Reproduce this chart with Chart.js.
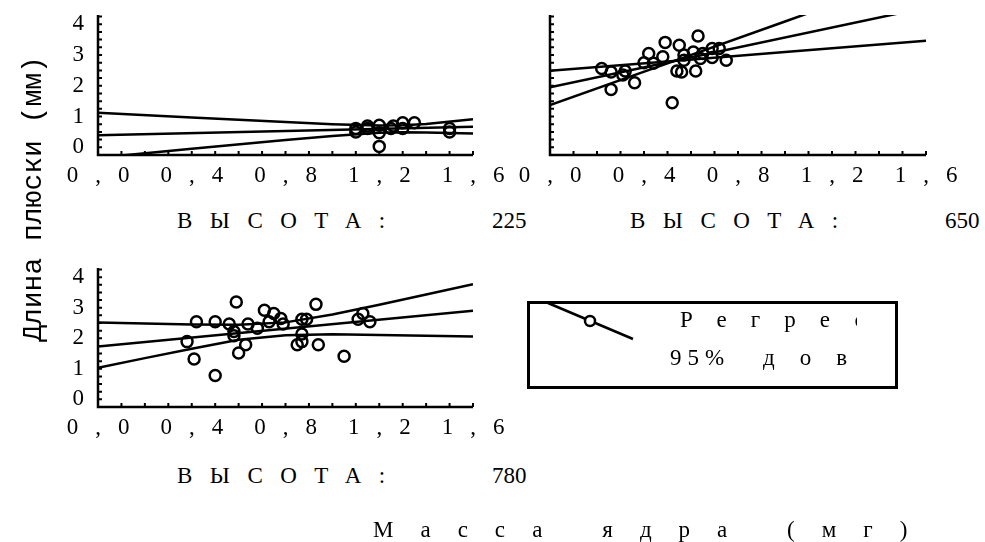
<!DOCTYPE html>
<html>
<head>
<meta charset="utf-8">
<script src="https://cdn.jsdelivr.net/npm/chart.js@4.4.1/dist/chart.umd.min.js"></script>
<style>
  html, body { margin: 0; padding: 0; background: #fff; }
  #page { position: relative; width: 985px; height: 542px; overflow: hidden;
          font-family: "Liberation Serif", "Times New Roman", serif; color: #000; }
  #page canvas { position: absolute; }
  .txt { position: absolute; white-space: nowrap; font-size: 23px; line-height: 23px; }
  .sp { letter-spacing: 17.5px; }
  #legendBox { position: absolute; left: 527px; top: 301px; width: 371px; height: 88px; border: 3px solid #000; box-sizing: border-box; }
  #legendClip { position: absolute; left: 528px; top: 302px; width: 329px; height: 86px; overflow: hidden; }
  #ytitle { position: absolute; left: -116px; top: 185px; width: 300px; height: 28px; line-height: 28px; text-align: center;
            font-family: "Liberation Mono", "Courier New", monospace; font-size: 28px;
            transform: rotate(-90deg); white-space: nowrap; }
</style>
</head>
<body>
<div id="page">
  <canvas id="c225" width="530" height="190" style="left:0;top:0"></canvas>
  <canvas id="c650" width="485" height="190" style="left:500px;top:0"></canvas>
  <canvas id="c780" width="530" height="195" style="left:0;top:255px"></canvas>

  <div class="txt sp" style="left:177px;top:209px">ВЫСОТА:</div><div class="txt" style="left:492px;top:209px">225</div>
  <div class="txt sp" style="left:630px;top:209px">ВЫСОТА:</div><div class="txt" style="left:945px;top:209px">650</div>
  <div class="txt sp" style="left:177px;top:464px">ВЫСОТА:</div><div class="txt" style="left:492px;top:464px">780</div>

  <div id="legendBox"></div>
  <div id="legendClip">
    <div class="txt" style="left:152px;top:6px;letter-spacing:24px">Регрессия</div>
    <div class="txt" style="left:142px;top:44px;letter-spacing:6px">95%</div>
    <div class="txt" style="left:235px;top:44px;letter-spacing:25px">доверительный интервал</div>
  </div>
  <svg width="985" height="542" style="position:absolute;left:0;top:0">
    <line x1="548" y1="303" x2="633" y2="339" stroke="#000" stroke-width="2.5"/>
    <circle cx="590" cy="321" r="5" fill="#fff" stroke="#000" stroke-width="2.5"/>
  </svg>

  <div class="txt" style="left:373px;top:518px;letter-spacing:27px">Масса ядра (мг)</div>
  <div id="ytitle">Длина плюски (мм)</div>
</div>
<script>
  // tick labels
  const xTickLabels = ["0,0", "0,4", "0,8", "1,2", "1,6"];
  const yTickLabels = ["0", "1", "2", "3", "4"];

  // fitted line ends (all panels)
  const fitX = [0, 1.6];

  // ВЫСОТА: 225
  const x225 = [1.10, 1.10, 1.15, 1.15, 1.20, 1.20, 1.20, 1.25, 1.26, 1.30, 1.30, 1.35, 1.50, 1.50];
  const y225 = [0.50, 0.61, 0.69, 0.61, 0.72, 0.47, 0.03, 0.61, 0.69, 0.80, 0.61, 0.80, 0.61, 0.50];
  const fit225 = [0.39, 0.67];
  const band225X = [0, 0.4, 0.8, 1.0, 1.2, 1.3, 1.4, 1.6];
  const hi225 = [1.12, 0.97, 0.82, 0.75, 0.71, 0.72, 0.76, 0.91];
  const lo225 = [-0.34, -0.05, 0.24, 0.37, 0.47, 0.49, 0.48, 0.45];

  // ВЫСОТА: 650
  const x650 = [0.22, 0.26, 0.26, 0.32, 0.31, 0.36, 0.40, 0.42, 0.44, 0.48, 0.49, 0.52, 0.54,
                0.55, 0.56, 0.57, 0.57, 0.61, 0.62, 0.63, 0.64, 0.65, 0.69, 0.69, 0.72, 0.75];
  const y650 = [2.56, 2.45, 1.88, 2.48, 2.35, 2.10, 2.75, 3.05, 2.73, 2.94, 3.41, 1.45, 2.48,
                3.32, 2.45, 3.00, 2.83, 3.10, 2.48, 3.62, 2.89, 3.05, 3.21, 2.92, 3.21, 2.83];
  const fit650 = [1.95, 4.54];
  const band650X = [0, 0.5, 1.0, 1.6];
  const hi650 = [2.49, 2.79, 3.10, 3.46];
  const lo650 = [1.37, 2.73, 4.09, 5.72];

  // ВЫСОТА: 780
  const x780 = [0.38, 0.41, 0.42, 0.50, 0.50, 0.56, 0.58, 0.58, 0.59, 0.60, 0.63, 0.64, 0.68, 0.71, 0.73,
                0.75, 0.78, 0.79, 0.85, 0.87, 0.87, 0.87, 0.89, 0.93, 0.94, 1.05, 1.11, 1.13, 1.16];
  const y780 = [1.89, 1.32, 2.54, 0.78, 2.54, 2.47, 2.22, 2.08, 3.19, 1.52, 1.79, 2.47, 2.33, 2.92, 2.54,
                2.81, 2.65, 2.47, 1.79, 2.62, 2.14, 1.89, 2.62, 3.11, 1.79, 1.41, 2.62, 2.81, 2.54];
  const fit780 = [1.73, 2.90];
  const band780X = [0, 0.2, 0.4, 0.6, 0.8, 1.0, 1.2, 1.4, 1.6];
  const hi780 = [2.52, 2.48, 2.45, 2.44, 2.52, 2.78, 3.10, 3.43, 3.77];
  const lo780 = [1.03, 1.35, 1.66, 1.95, 2.10, 2.13, 2.11, 2.08, 2.06];

  const tickFont = { family: "'Liberation Serif', 'Times New Roman', serif", size: 23 };
  const pairs = (xs, ys) => xs.map((x, i) => ({ x, y: ys[i] }));

  // axis lines, short inward tick marks, wide letter spacing for tick labels
  const axisLook = {
    id: "axisLook",
    beforeDraw(chart) { chart.ctx.letterSpacing = "17px"; },
    afterDraw(chart) {
      const { ctx, chartArea: a, scales: { x, y } } = chart;
      ctx.save();
      ctx.letterSpacing = "0px";
      ctx.strokeStyle = "#000";
      ctx.lineWidth = 2;
      ctx.beginPath();
      x.ticks.forEach((t) => { const p = x.getPixelForValue(t.value); ctx.moveTo(p, a.bottom); ctx.lineTo(p, a.bottom - 4); });
      y.ticks.forEach((t) => { const p = y.getPixelForValue(t.value); ctx.moveTo(a.left, p); ctx.lineTo(a.left + 4, p); });
      ctx.stroke();
      ctx.lineWidth = 2.5;
      ctx.beginPath();
      ctx.moveTo(a.left, a.top);
      ctx.lineTo(a.left, a.bottom);
      ctx.lineTo(a.right, a.bottom);
      ctx.stroke();
      ctx.restore();
    },
  };

  function panel(id, o) {
    const line = (xs, ys) => ({ data: pairs(xs, ys), showLine: true, borderColor: "#000", borderWidth: 2.5, pointRadius: 0, fill: false });
    new Chart(document.getElementById(id), {
      type: "scatter",
      data: {
        datasets: [
          line(fitX, o.fit), line(o.bandX, o.hi), line(o.bandX, o.lo),
          { data: pairs(o.px, o.py), pointRadius: 5.5, borderWidth: 2.5, borderColor: "#000", backgroundColor: "rgba(0,0,0,0)" },
        ],
      },
      options: {
        responsive: false, animation: false, events: [],
        layout: { padding: o.pad },
        plugins: { legend: { display: false }, tooltip: { enabled: false } },
        scales: {
          x: {
            type: "linear", min: 0, max: 1.6,
            afterFit: (s) => { s.height = o.xh; },
            grid: { display: false, drawTicks: false }, border: { display: false },
            ticks: {
              stepSize: 0.1, autoSkip: false, maxRotation: 0, padding: 7, labelOffset: 8.5, color: "#000", font: tickFont,
              callback: (v) => { const k = Math.round(v * 10); return k % 4 === 0 ? xTickLabels[k / 4] : ""; },
            },
          },
          y: {
            type: "linear", min: -0.25, max: 4.3,
            afterFit: (s) => { s.width = o.yw; },
            grid: { display: false, drawTicks: false }, border: { display: false },
            ticks: {
              stepSize: 0.25, includeBounds: false, autoSkip: false, display: o.yLabels, padding: -3, color: "#000", font: tickFont,
              callback: (v) => { const k = Math.round(v * 4); return k % 4 === 0 && k >= 0 ? yTickLabels[k / 4] : ""; },
            },
          },
        },
      },
      plugins: [axisLook],
    });
  }

  panel("c225", { px: x225, py: y225, fit: fit225, bandX: band225X, hi: hi225, lo: lo225,
                  pad: { left: 0, top: 15, right: 57, bottom: 0 }, xh: 35, yw: 98, yLabels: true });
  panel("c650", { px: x650, py: y650, fit: fit650, bandX: band650X, hi: hi650, lo: lo650,
                  pad: { left: 0, top: 15, right: 59, bottom: 0 }, xh: 35, yw: 50, yLabels: false });
  panel("c780", { px: x780, py: y780, fit: fit780, bandX: band780X, hi: hi780, lo: lo780,
                  pad: { left: 0, top: 13, right: 57, bottom: 0 }, xh: 43, yw: 98, yLabels: true });
</script>
</body>
</html>
